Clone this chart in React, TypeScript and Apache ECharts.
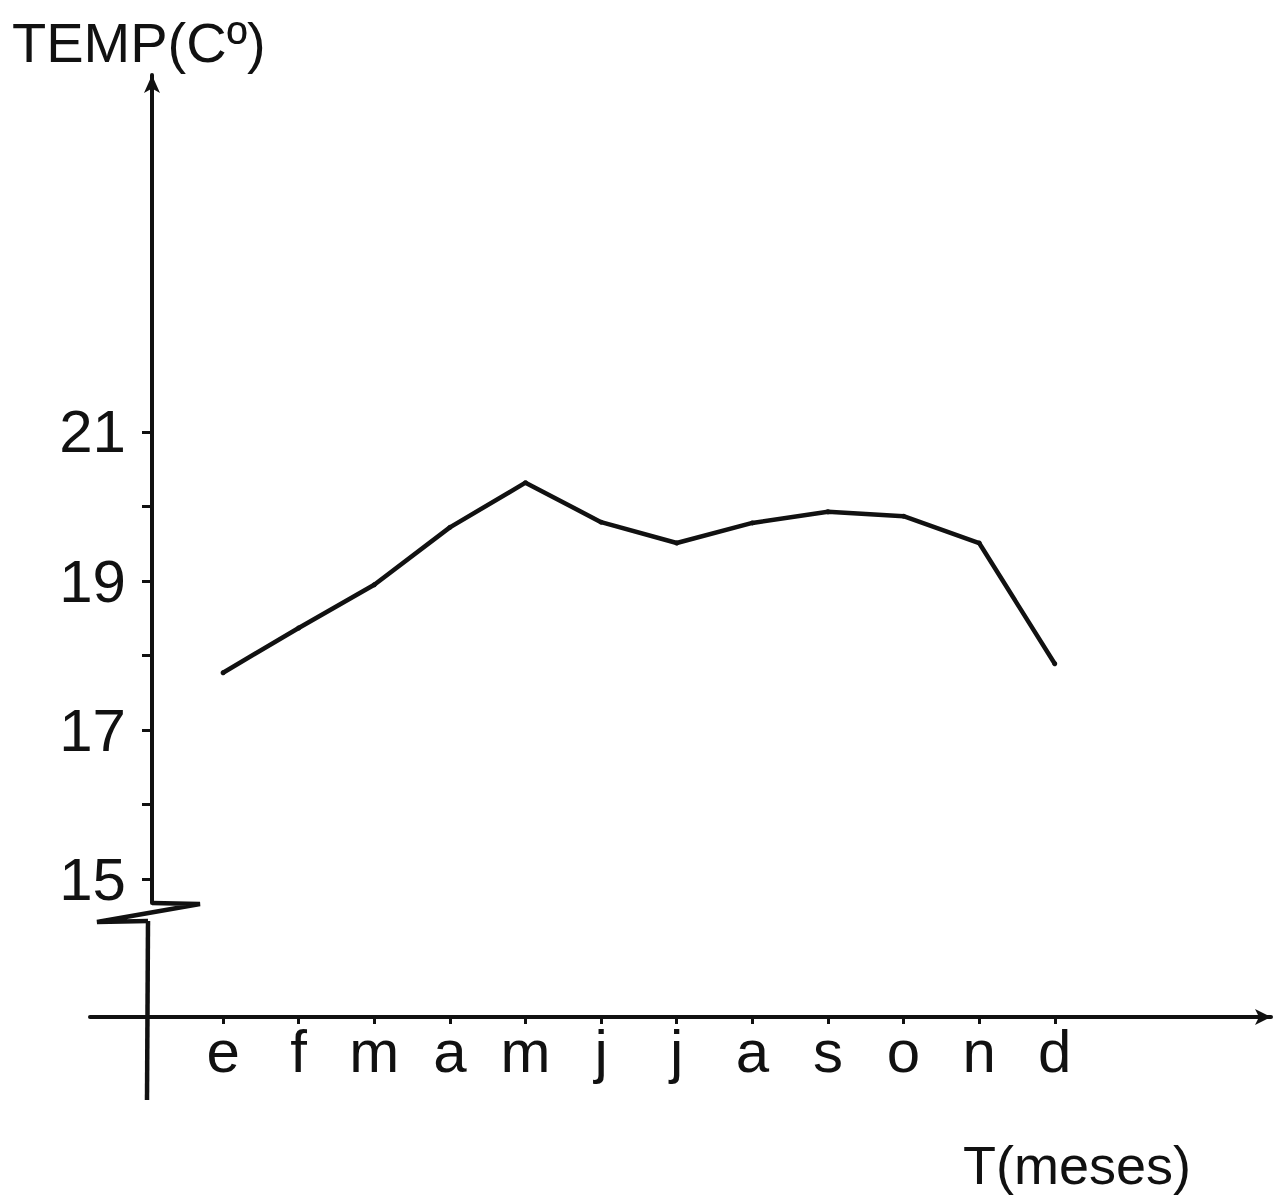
import React, { useEffect, useRef } from "react";
import * as echarts from "echarts";

const months = ["e", "f", "m", "a", "m", "j", "j", "a", "s", "o", "n", "d"];
const temps = [17.77, 18.37, 18.95, 19.72, 20.32, 19.79, 19.51, 19.78, 19.93, 19.87, 19.51, 17.89];
const yTickValues = [15, 16, 17, 18, 19, 20, 21];
const yLabelValues = [15, 17, 19, 21];
const yTitle = "TEMP(Cº)";
const xTitle = "T(meses)";

const FONT = "Liberation Sans";
const INK = "#111";

export default function App() {
  const ref = useRef<HTMLDivElement>(null);
  useEffect(() => {
    if (!ref.current) return;
    const chart = echarts.init(ref.current, undefined, { renderer: "svg" });
    const idx = months.map((_, i) => i);
    chart.setOption({
      animation: false,
      backgroundColor: "#fff",
      grid: { left: 90, top: 75, width: 1181, height: 828 },
      xAxis: {
        type: "value",
        min: -1.76,
        max: 13.86,
        offset: 114,
        splitLine: { show: false },
        axisLine: {
          onZero: false,
          lineStyle: { color: INK, width: 4 },
          symbol: ["none", "arrow"],
          symbolSize: [12, 16],
        },
        axisTick: { customValues: idx, length: 7, lineStyle: { color: INK, width: 3 } },
        axisLabel: {
          customValues: idx,
          formatter: (v: number) => months[Math.round(v)] ?? "",
          fontFamily: FONT,
          fontSize: 60,
          color: INK,
          margin: 4,
        },
      },
      yAxis: {
        type: "value",
        min: 14.68,
        max: 25.79,
        position: "left",
        offset: -62,
        splitLine: { show: false },
        axisLine: {
          onZero: false,
          lineStyle: { color: INK, width: 4 },
          symbol: ["none", "arrow"],
          symbolSize: [12, 18],
        },
        axisTick: { customValues: yTickValues, length: 10, lineStyle: { color: INK, width: 3 } },
        axisLabel: {
          customValues: yLabelValues,
          fontFamily: FONT,
          fontSize: 60,
          color: INK,
          margin: 26,
        },
      },
      graphic: [
        {
          type: "polyline",
          shape: { points: [[152, 903], [200, 904], [97, 922], [148, 921]] },
          style: { stroke: INK, lineWidth: 4.5, fill: "none" },
        },
        {
          type: "line",
          shape: { x1: 148, y1: 921, x2: 147, y2: 1100 },
          style: { stroke: INK, lineWidth: 4.5 },
        },
        {
          type: "text",
          left: 12,
          top: 14,
          style: { text: yTitle, fontFamily: FONT, fontSize: 56, fill: INK },
        },
        {
          type: "text",
          left: 963,
          top: 1138,
          style: { text: xTitle, fontFamily: FONT, fontSize: 54, fill: INK },
        },
      ],
      series: [
        {
          type: "line",
          data: temps.map((v, i) => [i, v]),
          symbol: "circle",
          symbolSize: 5,
          itemStyle: { color: INK },
          lineStyle: { color: INK, width: 4.5 },
        },
      ],
    });
    return () => chart.dispose();
  }, []);
  return (
    <div
      ref={ref}
      style={{ position: "fixed", left: 0, top: 0, width: 1278, height: 1198 }}
    />
  );
}
